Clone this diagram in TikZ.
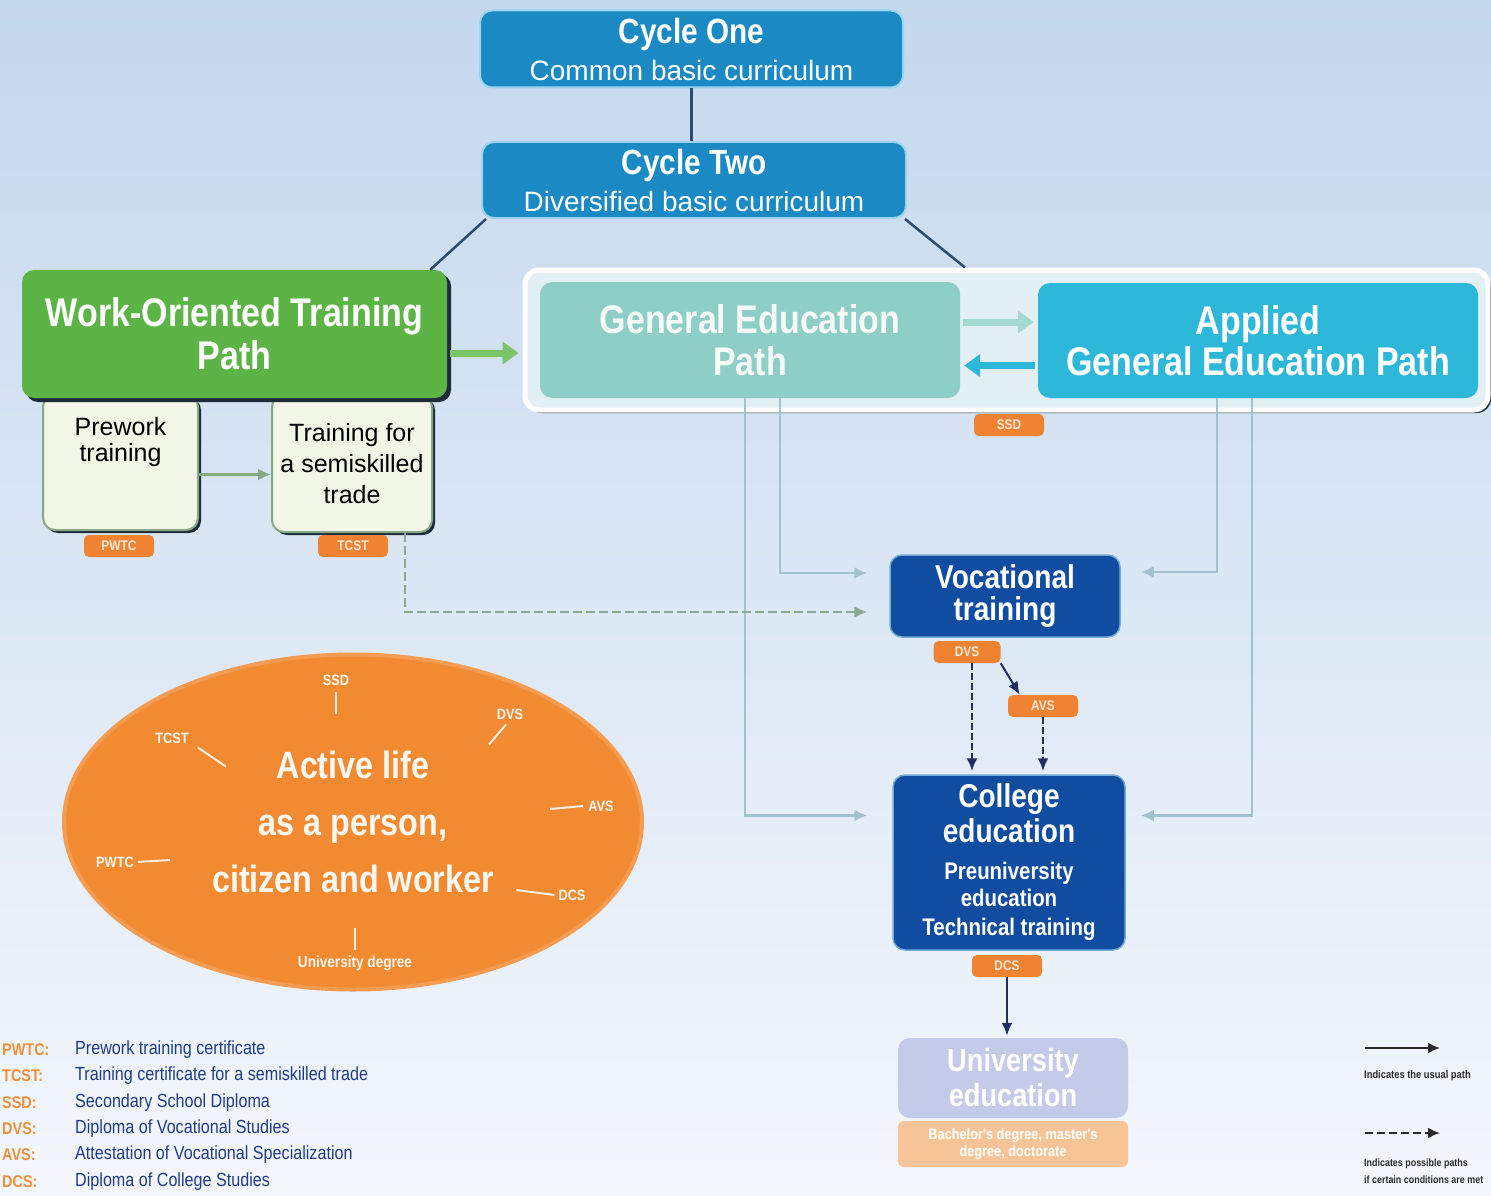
\documentclass[tikz,border=0pt]{standalone}
\usepackage{fontspec}
\setmainfont{Liberation Sans}
\newfontfamily\condfont{Liberation Sans}[FakeStretch=0.85]
\usetikzlibrary{positioning,arrows.meta,shapes.geometric,shadows,calc}
\definecolor{skytop}{HTML}{C4D8EE}
\definecolor{skybot}{HTML}{F4F7FC}
\definecolor{cycleblue}{HTML}{1A89C4}
\definecolor{cycleedge}{HTML}{9AD4F0}
\definecolor{workgreen}{HTML}{5CB446}
\definecolor{flowgreen}{HTML}{7CC46A}
\definecolor{subfill}{HTML}{F2F6E6}
\definecolor{subedge}{HTML}{86A884}
\definecolor{darkshade}{HTML}{1D2B3A}
\definecolor{framefill}{HTML}{E2EFF5}
\definecolor{genteal}{HTML}{8DCFC6}
\definecolor{appcyan}{HTML}{2DB8DA}
\definecolor{navybox}{HTML}{104DA0}
\definecolor{uniblue}{HTML}{C3CBE8}
\definecolor{degorange}{HTML}{F7C497}
\definecolor{lifeorange}{HTML}{F28A32}
\definecolor{lifeedge}{HTML}{F59C52}
\definecolor{tagorange}{HTML}{EF8331}
\definecolor{paleline}{HTML}{A2C3CE}
\definecolor{maybeline}{HTML}{8BA891}
\definecolor{inkline}{HTML}{222F5E}
\definecolor{linkline}{HTML}{2C4A72}
\definecolor{keyblue}{HTML}{1F3C8C}
\definecolor{keyorange}{HTML}{F0903C}
\definecolor{keyink}{HTML}{2A2A2A}

\begin{document}
\begin{tikzpicture}[
  x=1pt, y=-1pt,
  box/.style={rounded corners=12pt, inner sep=0, align=center, text=white},
  cycle/.style={box, fill=cycleblue, draw=cycleedge, line width=2pt,
                minimum width=423pt, minimum height=77pt,
                font=\fontsize{28}{37}\selectfont},
  % the three paths after Cycle Two
  work/.style={box, fill=workgreen, minimum width=425pt, minimum height=128pt,
               drop shadow={shadow xshift=4pt, shadow yshift=-4pt, fill=darkshade, opacity=1},
               font=\condfont\bfseries\fontsize{40}{43}\selectfont},
  sub/.style={box, text=black, fill=subfill, draw=subedge, line width=2pt,
              drop shadow={shadow xshift=3pt, shadow yshift=-3pt, fill=darkshade, opacity=1},
              font=\fontsize{25}{31}\selectfont},
  frame/.style={rounded corners=14pt, fill=framefill, draw=white, line width=5pt,
                minimum width=963pt, minimum height=140pt,
                drop shadow={shadow xshift=3pt, shadow yshift=-3pt, fill=darkshade, opacity=1}},
  gen/.style={box, fill=genteal, minimum width=420pt, minimum height=116pt,
              text=white!92!genteal, font=\condfont\bfseries\fontsize{40}{42}\selectfont},
  app/.style={box, fill=appcyan, minimum width=440pt, minimum height=115pt,
              font=\condfont\bfseries\fontsize{40}{41}\selectfont},
  navy/.style={box, fill=navybox, draw=cycleedge!70!navybox, line width=1.5pt,
               font=\condfont\bfseries\fontsize{33}{33}\selectfont},
  univ/.style={box, fill=uniblue, minimum width=230pt, minimum height=80pt,
               font=\condfont\bfseries\fontsize{32}{35}\selectfont},
  degbox/.style={box, rounded corners=6pt, fill=degorange, minimum width=230pt,
                 minimum height=46pt, font=\condfont\bfseries\fontsize{15}{17}\selectfont},
  tag/.style={rounded corners=5pt, fill=tagorange, minimum width=70pt, minimum height=22pt,
              inner sep=0, text=white!80!tagorange,
              font=\condfont\bfseries\fontsize{14}{14}\selectfont},
  life/.style={ellipse, fill=lifeorange, draw=lifeedge, line width=4pt, inner sep=0,
               minimum width=578pt, minimum height=335pt, align=center, text=white!94!lifeorange,
               font=\condfont\bfseries\fontsize{38}{57}\selectfont},
  elabel/.style={inner sep=1pt, text=white!92!lifeorange,
                 font=\condfont\bfseries\fontsize{15}{15}\selectfont},
  spoke/.style={draw=white!85!lifeorange, line width=2pt},
  % connectors
  link/.style={draw=linkline, line width=2.5pt},
  feed/.style={draw=paleline, line width=2.5pt, -{Latex[length=13pt,width=12pt]}},
  maybe/.style={draw=maybeline, line width=2.5pt, dash pattern=on 9pt off 4pt,
                -{Latex[length=13pt,width=12pt]}},
  route/.style={draw=inkline, line width=2.5pt, -{Latex[length=13pt,width=11pt]}},
  routemaybe/.style={route, dash pattern=on 7pt off 3pt},
  fat/.style={line width=7pt, -{Triangle[length=16pt,width=22pt]}, shorten <=3pt, shorten >=4pt},
  % key
  keyabbr/.style={anchor=west, inner sep=0, text=keyorange,
                  font=\condfont\bfseries\fontsize{17}{17}\selectfont},
  keytxt/.style={anchor=west, inner sep=0, text=keyblue,
                 font=\condfont\fontsize{19}{19}\selectfont},
  keyline/.style={draw=keyink, line width=2pt, -{Latex[length=12pt,width=11pt]}},
  keynote/.style={anchor=west, inner sep=0, text=keyink,
                  font=\condfont\bfseries\fontsize{11}{17}\selectfont, align=left}
]

% background
\shade[top color=skytop, bottom color=skybot] (0,0) rectangle (1491,1196);
\useasboundingbox (0,0) rectangle (1491,1196);

% cycles
\node[cycle] (cone) at (691.5,49)
  {{\condfont\bfseries\fontsize{35}{37}\selectfont Cycle One}\\Common basic curriculum};
\node[cycle, minimum width=424pt, minimum height=76pt] (ctwo) at (694,180)
  {{\condfont\bfseries\fontsize{35}{37}\selectfont Cycle Two}\\Diversified basic curriculum};

% work-oriented path (sub boxes first, the green box covers their tops)
\node[sub, minimum width=155pt, minimum height=135pt,
      label={[anchor=north, yshift=-20pt, align=center, font=\fontsize{25}{26}\selectfont]north:Prework\\training}]
  (prework) at (120.5,462.5) {};
\node[sub, minimum width=160pt, minimum height=137pt] (trade) at (352,463.5)
  {Training for\\a semiskilled\\trade};
\node[work] (work) at (234.5,334) {Work-Oriented Training\\Path};
\node[tag] (pwtc) at (119,546) {PWTC};
\node[tag] (tcst) at (353,546) {TCST};

% general education paths
\node[frame] (gframe) at (1006.5,340) {};
\node[gen] (ge) at (750,340) {General Education\\Path};
\node[app] (age) at (1258,340.5) {Applied\\General Education Path};
\node[tag] (ssd) at (1009,425) {SSD};

% vocational and college
\node[navy, minimum width=230pt, minimum height=82pt] (voc) at (1005,596)
  {Vocational\\[-1pt]training};
\node[tag, minimum width=67pt] (dvs) at (967,652) {DVS};
\node[tag] (avs) at (1043,706) {AVS};
\node[navy, minimum width=232pt, minimum height=175pt] (coll) at (1009,862.5)
  {College\\[2pt]education\\[4pt]{\fontsize{24}{26}\selectfont Preuniversity}\\[-6pt]
   {\fontsize{24}{26}\selectfont education}\\[-4pt]{\fontsize{24}{26}\selectfont Technical training}};
\node[tag] (dcs) at (1007,966) {DCS};
\node[univ] (univ) at (1013,1078) {University\\education};
\node[degbox] (deg) at (1013,1144) {Bachelor's degree, master's\\degree, doctorate};

% active life
\node[life] (life) at (353,822) {Active life\\as a person,\\citizen and worker};
\node[elabel] (essd) at (336,680) {SSD};
\node[elabel] (edvs) at (510,714) {DVS};
\node[elabel] (etcst) at (172,738) {TCST};
\node[elabel] (eavs) at (601,806) {AVS};
\node[elabel] (epwtc) at (115,862) {PWTC};
\node[elabel] (edcs) at (572,895) {DCS};
\node[elabel, font=\condfont\bfseries\fontsize{16}{16}\selectfont] (edeg) at (355,963)
  {University degree};
\draw[spoke] ([yshift=-5pt]essd.south) -- ++(0,22);
\draw[spoke] ([xshift=-4pt,yshift=-4pt]edvs.south) -- ++(-17,20);
\draw[spoke] ([xshift=8pt,yshift=-3pt]etcst.south east) -- ++(28,19);
\draw[spoke] ([xshift=-4pt]eavs.west) -- ++(-33,3);
\draw[spoke] ([xshift=3pt]epwtc.east) -- ++(32,-2);
\draw[spoke] ([xshift=-3pt]edcs.west) -- ++(-38,-5);
\draw[spoke] ([yshift=4pt]edeg.north) -- ++(0,-22);

% connectors
\draw[link] (cone.south) -- (cone.south |- ctwo.north);
\draw[link] ([xshift=5pt]ctwo.south west) -- ([xshift=-17pt]work.north east);
\draw[link] ([xshift=-2pt]ctwo.south east) -- ([xshift=-41.5pt]gframe.north);
\draw[fat, draw=flowgreen] ([yshift=-19pt]work.east) -- ([yshift=-19pt]work.east -| gframe.west);
\draw[fat, draw=genteal!80!white] ([yshift=18pt]ge.east) -- ([yshift=18pt]ge.east -| age.west);
\draw[fat, draw=appcyan] ([yshift=-25pt]age.west) -- ([yshift=-25pt]age.west -| ge.east);
\draw[draw=subedge, line width=3pt, -{Latex[length=13pt,width=12pt]}]
  ([yshift=-12pt]prework.east) -- ([yshift=-12pt]prework.east -| trade.west);

\draw[feed] ([xshift=30pt]ge.south) |- ([xshift=-22pt,yshift=23pt]voc.west);
\draw[feed] ([xshift=-5pt]ge.south) |- ([xshift=-25pt,yshift=47pt]coll.west);
\draw[feed] ([xshift=-41pt]age.south) |- ([xshift=20pt,yshift=24pt]voc.east);
\draw[feed] ([xshift=-6pt]age.south) |- ([xshift=15pt,yshift=47pt]coll.east);
\draw[maybe] ([xshift=53pt]trade.south) |- ([xshift=-22pt,yshift=-16pt]voc.west);

\draw[routemaybe, shorten >=3pt] ([xshift=5pt]dvs.south) -- ([xshift=5pt]dvs.south |- coll.north);
\draw[route, line width=2pt] (dvs.south east) -- ([xshift=12pt]avs.north west);
\draw[routemaybe, shorten >=3pt] (avs.south) -- (avs.south |- coll.north);
\draw[route, shorten >=2pt] (dcs.south) -- (dcs.south |- univ.north);

% key, left
\node[keyabbr] (kpwtc) at (2,1050) {PWTC:};
\node[keyabbr] (ktcst) at (2,1076) {TCST:};
\node[keyabbr] (kssd) at (2,1103) {SSD:};
\node[keyabbr] (kdvs) at (2,1129) {DVS:};
\node[keyabbr] (kavs) at (2,1155) {AVS:};
\node[keyabbr] (kdcs) at (2,1182) {DCS:};
\node[keytxt] (tpwtc) at (75,1050) {Prework training certificate};
\node[keytxt] (ttcst) at (75,1076) {Training certificate for a semiskilled trade};
\node[keytxt] (tssd) at (75,1103) {Secondary School Diploma};
\node[keytxt] (tdvs) at (75,1129) {Diploma of Vocational Studies};
\node[keytxt] (tavs) at (75,1155) {Attestation of Vocational Specialization};
\node[keytxt] (tdcs) at (75,1182) {Diploma of College Studies};

% key, right
\coordinate (usualA) at (1365,1048);
\coordinate (usualB) at (1440,1048);
\draw[keyline] (usualA) -- (usualB);
\node[keynote] (usual) at (1364,1076) {Indicates the usual path};
\coordinate (maybeA) at (1365,1133);
\coordinate (maybeB) at (1440,1133);
\draw[keyline, dash pattern=on 8pt off 4pt] (maybeA) -- (maybeB);
\node[keynote, font=\condfont\bfseries\fontsize{10.5}{17}\selectfont] (possible) at (1364,1171)
  {Indicates possible paths\\if certain conditions are met};

\end{tikzpicture}
\end{document}
